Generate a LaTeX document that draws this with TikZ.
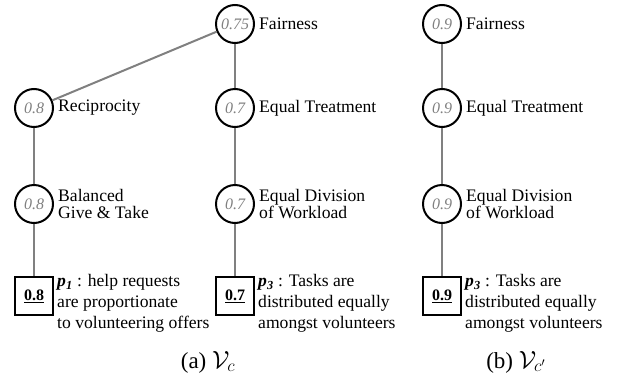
\documentclass[tikz,border=0pt]{standalone}
\usepackage{fontspec}
\setmainfont{Liberation Serif}
\usetikzlibrary{positioning}

\tikzset{
  valnode/.style={circle, draw, line width=2pt, minimum size=38pt, inner sep=0pt, text=gray, font=\fontsize{16}{16}\selectfont\itshape},
  leafnode/.style={draw, line width=2pt, minimum size=38pt, inner sep=0pt, font=\fontsize{16}{16}\selectfont\bfseries},
  namenode/.style={inner xsep=4pt, inner ysep=0pt, align=left, font=\fontsize{17.6}{17.5}\selectfont},
  leaftext/.style={anchor=north west, inner xsep=3pt, inner ysep=0pt, yshift=2pt, align=left, font=\fontsize{17.6}{21}\selectfont},
  link/.style={draw=gray, line width=2pt},
  captext/.style={font=\fontsize{23}{23}\selectfont}
}

\newcommand{\pname}[1]{\textbf{\textit{p\textsubscript{#1}}}}

\begin{document}
\begin{tikzpicture}[x=1pt, y=1pt]
        \useasboundingbox (0,0) rectangle (617,-383);

        % (a)
        \node[valnode] (fair) at (235,-24) {0.75};
        \node[valnode] (recip) at (34,-108) {0.8};
        \node[valnode] (equal) at (235,-108) {0.7};
        \node[valnode] (balance) at (34,-204) {0.8};
        \node[valnode] (division) at (235,-204) {0.7};
        \node[leafnode] (pone) at (34,-296) {\underline{0.8}};
        \node[leafnode] (pthree) at (235,-296) {\underline{0.7}};

        \node[namenode, right=0pt of fair] (fairname) {Fairness};
        \node[namenode, right=0pt of recip] (recipname) {Reciprocity};
        \node[namenode, right=0pt of equal] (equalname) {Equal Treatment};
        \node[namenode, right=0pt of balance] (balancename) {Balanced\\Give \& Take};
        \node[namenode, right=0pt of division] (divisionname) {Equal Division\\of Workload};
        \node[leaftext] (ponetext) at (pone.north east) {\pname{1} : help requests\\are proportionate\\to volunteering offers};
        \node[leaftext] (pthreetext) at (pthree.north east) {\pname{3} : Tasks are\\distributed equally\\amongst volunteers};

        \draw[link] (fair) -- (recip);
        \draw[link] (fair) -- (equal);
        \draw[link] (recip) -- (balance);
        \draw[link] (equal) -- (division);
        \draw[link] (balance) -- (pone);
        \draw[link] (division) -- (pthree);

        \node[captext] (capa) at (208,-362) {(a) $\mathcal{V}_c$};

        % (b)
        \begin{scope}[shift={(442,0)}]
            \node[valnode] (fairb) at (0,-24) {0.9};
            \node[valnode] (equalb) at (0,-108) {0.9};
            \node[valnode] (divisionb) at (0,-204) {0.9};
            \node[leafnode] (pthreeb) at (0,-296) {\underline{0.9}};

            \node[namenode, right=0pt of fairb] (fairbname) {Fairness};
            \node[namenode, right=0pt of equalb] (equalbname) {Equal Treatment};
            \node[namenode, right=0pt of divisionb] (divisionbname) {Equal Division\\of Workload};
            \node[leaftext] (pthreebtext) at (pthreeb.north east) {\pname{3} : Tasks are\\distributed equally\\amongst volunteers};

            \draw[link] (fairb) -- (equalb);
            \draw[link] (equalb) -- (divisionb);
            \draw[link] (divisionb) -- (pthreeb);

            \node[captext] (capb) at (74,-362) {(b) $\mathcal{V}_{c'}$};
        \end{scope}
\end{tikzpicture}
\end{document}
